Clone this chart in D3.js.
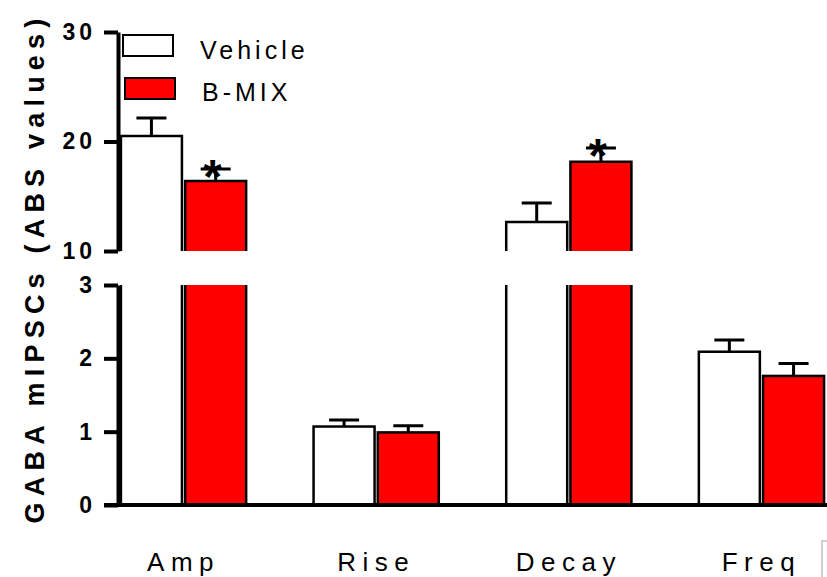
<!DOCTYPE html>
<html lang="en">
  <head>
    <meta charset="UTF-8">
    <style>
      body { margin: 0; background: #fff; }
      svg text { font-family: Arial, "Liberation Sans", sans-serif; }
    </style>
    <script src="https://d3js.org/d3.v7.min.js"></script>
  </head>
  <body>
    <div id="chart"></div>
    <script>
      // values
      const categories = ["Amp", "Rise", "Decay", "Freq"];
      const groups = ["Vehicle", "B-MIX"];
      const vehicle = [20.5, 1.07, 12.65, 2.09];
      const vehicleErr = [1.65, 0.09, 1.73, 0.16];
      const bmix = [16.4, 0.99, 18.15, 1.76];
      const bmixErr = [1.1, 0.09, 1.25, 0.17];
      const signif = [true, false, true, false];
      const topTicks = [10, 20, 30];
      const lowTicks = [0, 1, 2, 3];
      const colors = ["#ffffff", "#ff0000"];

      const W = 827, H = 577;
      const svg = d3.select("#chart").append("svg")
        .attr("width", W).attr("height", H);

      const axisX = 118;
      // broken y axis: two segments
      const yTop = d3.scaleLinear().domain([10, 30]).range([251, 32]);
      const yLow = d3.scaleLinear().domain([0, 3]).range([505, 285]);
      const yv = v => v > 3 ? yTop(v) : yLow(v);

      const x = d3.scaleBand().domain(categories)
        .range([119, 826]).paddingInner(0.35).paddingOuter(0.01);
      const xs = d3.scaleBand().domain(groups)
        .range([0, x.bandwidth()]).paddingInner(0.05);

      const rows = [];
      categories.forEach((c, i) => {
        rows.push({cat: c, g: groups[0], v: vehicle[i], e: vehicleErr[i], fill: colors[0], star: false});
        rows.push({cat: c, g: groups[1], v: bmix[i], e: bmixErr[i], fill: colors[1], star: signif[i]});
      });

      const bars = svg.append("g");
      rows.forEach(d => {
        const x0 = x(d.cat) + xs(d.g), x1 = x0 + xs.bandwidth();
        if (d.v <= 3) {
          bars.append("rect")
            .attr("x", x0).attr("y", yLow(d.v))
            .attr("width", x1 - x0).attr("height", yLow(0) - yLow(d.v))
            .attr("fill", d.fill).attr("stroke", "#000").attr("stroke-width", 2.5);
        } else {
          // lower part cut at 3
          bars.append("rect")
            .attr("x", x0).attr("y", yLow(3))
            .attr("width", x1 - x0).attr("height", yLow(0) - yLow(3))
            .attr("fill", d.fill);
          bars.append("path")
            .attr("d", `M${x0},${yLow(0)}V${yLow(3)}M${x1},${yLow(3)}V${yLow(0)}`)
            .attr("fill", "none").attr("stroke", "#000").attr("stroke-width", 2.5);
          // upper part from 10
          bars.append("rect")
            .attr("x", x0).attr("y", yTop(d.v))
            .attr("width", x1 - x0).attr("height", yTop(10) - yTop(d.v))
            .attr("fill", d.fill);
          bars.append("path")
            .attr("d", `M${x0},${yTop(10)}V${yTop(d.v)}H${x1}V${yTop(10)}`)
            .attr("fill", "none").attr("stroke", "#000").attr("stroke-width", 2.5);
        }
        // error bar
        const cx = (x0 + x1) / 2, ye = yv(d.v + d.e);
        bars.append("path")
          .attr("d", `M${cx},${yv(d.v)}V${ye}M${cx - 15},${ye}H${cx + 15}`)
          .attr("fill", "none").attr("stroke", "#000").attr("stroke-width", 3);
        if (d.star) {
          bars.append("text")
            .attr("x", cx - 3).attr("y", ye + 24)
            .attr("text-anchor", "middle")
            .attr("font-size", 48).attr("font-weight", "bold")
            .text("*");
        }
      });

      // y axes
      const ax1 = svg.append("g").attr("transform", `translate(${axisX},0)`)
        .call(d3.axisLeft(yTop).tickValues(topTicks).tickFormat(d3.format("d"))
          .tickSize(14).tickSizeOuter(0).tickPadding(8));
      const ax2 = svg.append("g").attr("transform", `translate(${axisX},0)`)
        .call(d3.axisLeft(yLow).tickValues(lowTicks).tickFormat(d3.format("d"))
          .tickSize(14).tickSizeOuter(0).tickPadding(8));
      [ax1, ax2].forEach(a => {
        a.select(".domain").attr("stroke-width", 4).attr("stroke", "#000");
        a.selectAll(".tick line").attr("stroke-width", 4).attr("stroke", "#000");
        a.selectAll(".tick text")
          .attr("font-size", 23).attr("font-weight", "bold")
          .attr("letter-spacing", 4).attr("fill", "#000")
          .attr("font-family", "Arial, 'Liberation Sans', sans-serif");
      });

      // x axis baseline + category labels
      const xa = svg.append("g").attr("transform", `translate(0,${yLow(0)})`)
        .call(d3.axisBottom(x).tickSize(0));
      xa.select(".domain").remove();
      xa.append("line").attr("x1", 104).attr("x2", W)
        .attr("stroke", "#000").attr("stroke-width", 4);
      xa.selectAll(".tick text")
        .attr("font-size", 26).attr("letter-spacing", 6.5).attr("fill", "#000")
        .attr("font-family", "Arial, 'Liberation Sans', sans-serif")
        .attr("dy", 0).attr("y", 66);

      // y title
      svg.append("text")
        .attr("transform", "translate(44,268) rotate(-90)")
        .attr("text-anchor", "middle")
        .attr("font-size", 27).attr("font-weight", "bold")
        .attr("letter-spacing", 6.2)
        .text("GABA mIPSCs (ABS values)");

      // legend
      const leg = svg.append("g");
      groups.forEach((g, i) => {
        leg.append("rect")
          .attr("x", 123 + i * 2).attr("y", 35 + i * 43)
          .attr("width", 50).attr("height", 21)
          .attr("fill", colors[i]).attr("stroke", "#000").attr("stroke-width", 2);
        leg.append("text")
          .attr("x", 200 + i * 2).attr("y", 59 + i * 42)
          .attr("font-size", 25).attr("letter-spacing", 4)
          .text(g);
      });

      // faint frame edge at bottom right
      svg.append("path").attr("d", "M827,541H822V577")
        .attr("fill", "none").attr("stroke", "#d0d0d0").attr("stroke-width", 2);
    </script>
  </body>
</html>
